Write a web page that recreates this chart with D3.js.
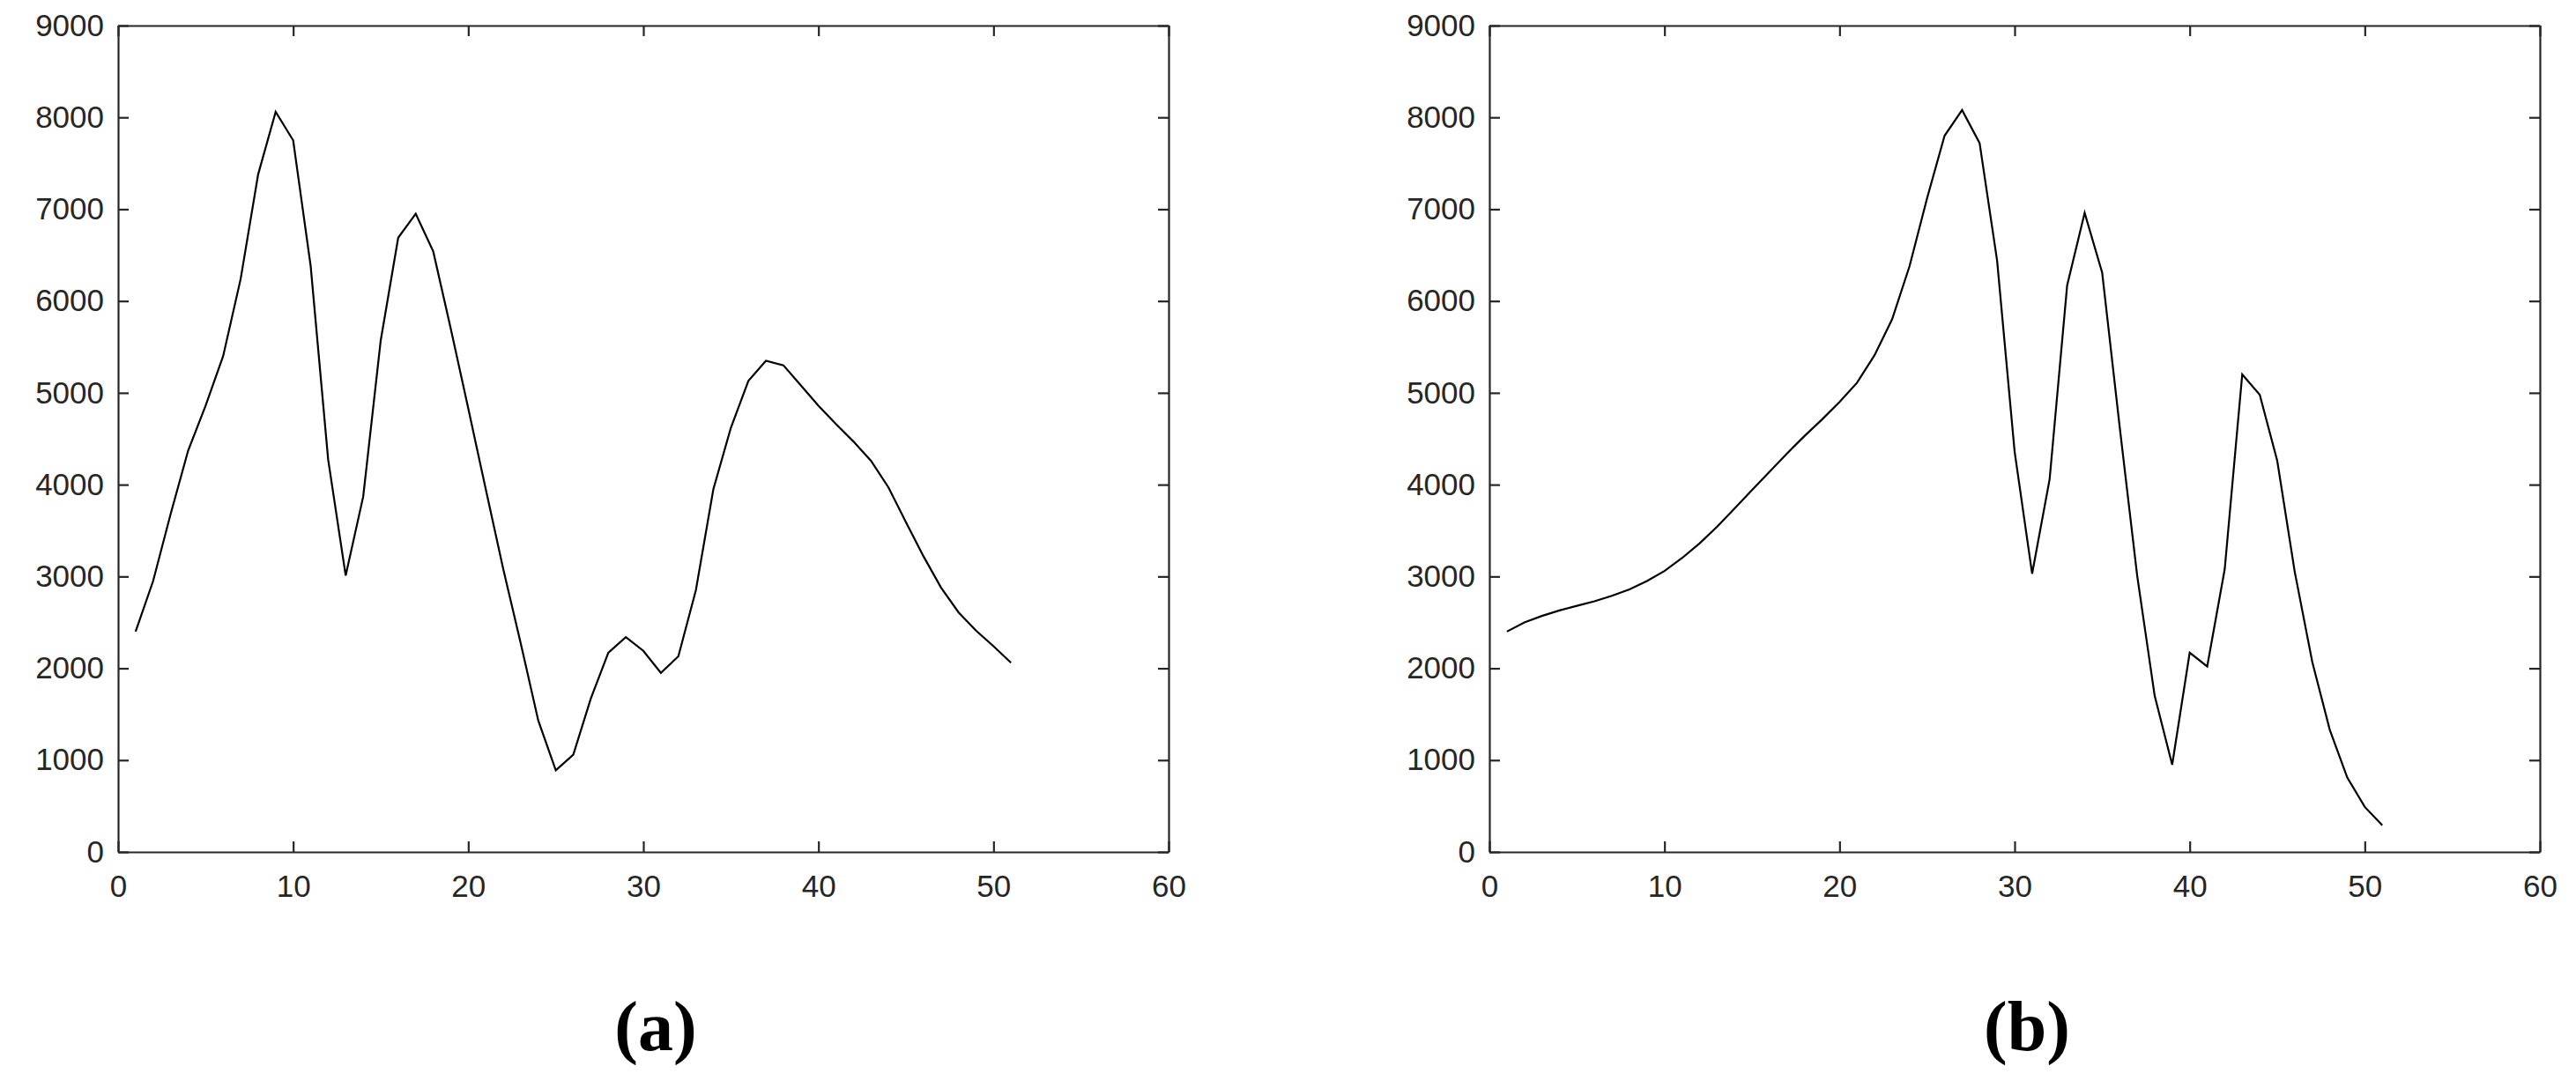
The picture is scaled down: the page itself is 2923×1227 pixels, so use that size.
<!DOCTYPE html>
<html>
<head>
<meta charset="utf-8">
<script src="https://cdn.jsdelivr.net/npm/d3@7"></script>
<style>
    body { margin: 0; background: #fff; }
    svg { display: block; }
</style>
</head>
<body>
<div id="chart"></div>
<script>
// x is the step number 1..51
const xTicks = [0, 10, 20, 30, 40, 50, 60];
const yTicks = [0, 1000, 2000, 3000, 4000, 5000, 6000, 7000, 8000, 9000];

const seriesA = [
    2400, 2950, 3680, 4370, 4860, 5400, 6240, 7380, 8060, 7750,
    6380, 4270, 3010, 3870, 5570, 6690, 6950, 6540, 5700, 4830,
    3950, 3080, 2270, 1430, 890, 1060, 1670, 2170, 2340, 2190,
    1950, 2130, 2850, 3950, 4620, 5130, 5350, 5300, 5080, 4860,
    4660, 4470, 4260, 3970, 3590, 3220, 2880, 2610, 2410, 2240,
    2060
];

const seriesB = [
    2400, 2500, 2570, 2630, 2680, 2730, 2790, 2860, 2950, 3060,
    3200, 3360, 3540, 3740, 3940, 4140, 4340, 4530, 4710, 4900,
    5110, 5410, 5800, 6380, 7120, 7800, 8080, 7720, 6440, 4360,
    3030, 4060, 6170, 6960, 6310, 4630, 3010, 1700, 950, 2170,
    2020, 3080, 5200, 4980, 4260, 3050, 2070, 1330, 810, 490,
    290
];

const panelLabels = ['a', 'b'];

const WIDTH = 2923;
const HEIGHT = 1227;
const AXIS_COLOR = '#262626';
const FONT = '"Liberation Sans", Arial, sans-serif';

class Panel {
    constructor(parent, values, label, left) {
        this.values = values;
        this.label = label;

        this.x = d3.scaleLinear()
            .domain([0, 60])
            .range([left, left + 1192]);
        this.y = d3.scaleLinear()
            .domain([0, 9000])
            .range([967, 29]);

        this.ROOT = parent.append('g');
    }

    draw() {
        const x = this.x, y = this.y;
        const [x0, x1] = x.range();
        const [y0, y1] = y.range();
        const fmt = d3.format('d');

        // bottom + left carry the labels, top + right only the inward ticks
        this.ROOT.append('g')
            .attr('transform', `translate(0,${y0})`)
            .call(d3.axisBottom(x).tickValues(xTicks).tickFormat(fmt)
                .tickSizeInner(-12).tickSizeOuter(0).tickPadding(26));
        this.ROOT.append('g')
            .attr('transform', `translate(${x0},0)`)
            .call(d3.axisLeft(y).tickValues(yTicks).tickFormat(fmt)
                .tickSizeInner(-12).tickSizeOuter(0).tickPadding(16));
        this.ROOT.append('g')
            .attr('transform', `translate(0,${y1})`)
            .call(d3.axisTop(x).tickValues(xTicks).tickFormat(() => '')
                .tickSizeInner(-12).tickSizeOuter(0));
        this.ROOT.append('g')
            .attr('transform', `translate(${x1},0)`)
            .call(d3.axisRight(y).tickValues(yTicks).tickFormat(() => '')
                .tickSizeInner(-12).tickSizeOuter(0));

        this.ROOT.selectAll('.domain, .tick line')
            .attr('stroke', AXIS_COLOR)
            .attr('stroke-width', 2.2);
        this.ROOT.selectAll('.tick text')
            .attr('fill', AXIS_COLOR)
            .attr('font-family', FONT)
            .attr('font-size', 35);

        const line = d3.line()
            .x((d, i) => x(i + 1))
            .y(d => y(d));

        this.ROOT.append('path')
            .datum(this.values)
            .attr('fill', 'none')
            .attr('stroke', '#000')
            .attr('stroke-width', 2.2)
            .attr('d', line);

        this.ROOT.append('text')
            .attr('x', (x0 + x1) / 2 + 14)
            .attr('y', 1192)
            .attr('text-anchor', 'middle')
            .attr('font-family', '"Liberation Serif", "Times New Roman", serif')
            .attr('font-size', 80)
            .attr('font-weight', 'bold')
            .text(`(${this.label})`);
    }
}

const svg = d3.select('#chart').append('svg')
    .attr('width', WIDTH)
    .attr('height', HEIGHT)
    .attr('viewBox', [0, 0, WIDTH, HEIGHT]);

svg.append('rect')
    .attr('width', WIDTH)
    .attr('height', HEIGHT)
    .attr('fill', '#fff');

new Panel(svg, seriesA, panelLabels[0], 134).draw();
new Panel(svg, seriesB, panelLabels[1], 1690).draw();
</script>
</body>
</html>
